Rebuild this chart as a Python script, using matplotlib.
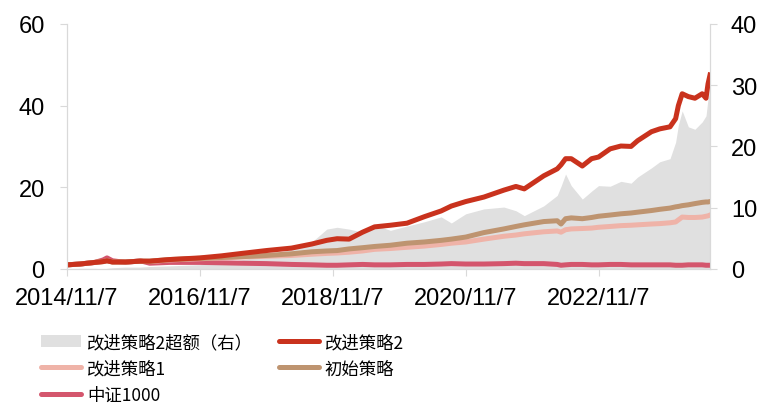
import numpy as np
import pandas as pd
import matplotlib
matplotlib.use("Agg")
import matplotlib.pyplot as plt
import matplotlib.dates as mdates
from matplotlib.patches import Patch
from matplotlib.lines import Line2D

plt.rcParams['font.family'] = ['Liberation Sans', 'Noto Sans CJK SC', 'DejaVu Sans']

dates = ["2014-11-07", "2015-01-17", "2015-04-10", "2015-05-25", "2015-06-15", "2015-07-15",
         "2015-09-25", "2015-12-15", "2016-02-05", "2016-05-25", "2016-11-07", "2017-03-05",
         "2017-06-25", "2017-11-07", "2018-03-25", "2018-07-15", "2018-10-05", "2018-12-01",
         "2019-02-05", "2019-04-20", "2019-06-25", "2019-09-20", "2019-12-20", "2020-03-25",
         "2020-06-25", "2020-08-20", "2020-11-07", "2021-02-15", "2021-06-05", "2021-08-10",
         "2021-09-25", "2022-01-10", "2022-03-25", "2022-04-15", "2022-05-10", "2022-06-10",
         "2022-08-10", "2022-09-30", "2022-11-07", "2023-01-10", "2023-03-10", "2023-05-05",
         "2023-06-10", "2023-08-25", "2023-10-10", "2023-12-05", "2024-01-05", "2024-01-20",
         "2024-02-10", "2024-03-15", "2024-04-20", "2024-05-30", "2024-06-20", "2024-07-01",
         "2024-07-12"]

improved2 = [1.0, 1.2, 1.6, 1.8, 2.0, 1.7, 1.7, 1.9, 1.9, 2.3, 2.7, 3.2,
             3.8, 4.5, 5.1, 6.1, 7.0, 7.4, 7.3, 9.0, 10.3, 10.7, 11.2, 12.8,
             14.2, 15.4, 16.5, 17.6, 19.3, 20.2, 19.6, 22.8, 24.5, 25.5, 27.0, 27.0,
             25.2, 27.0, 27.4, 29.4, 30.1, 30.0, 31.4, 33.6, 34.3, 34.8, 36.8, 40.0,
             42.9, 42.2, 41.8, 42.9, 41.8, 45.3, 47.5]
initial = [1.0, 1.2, 1.6, 1.8, 2.0, 1.7, 1.7, 1.9, 1.9, 2.3, 2.6, 2.8,
           3.0, 3.3, 3.7, 4.2, 4.4, 4.5, 4.9, 5.2, 5.5, 5.8, 6.3, 6.6,
           7.0, 7.3, 7.8, 8.9, 9.8, 10.4, 10.8, 11.6, 11.8, 11.0, 12.3, 12.5,
           12.3, 12.6, 12.9, 13.2, 13.5, 13.7, 13.9, 14.3, 14.6, 14.9, 15.2, 15.3,
           15.5, 15.7, 16.0, 16.3, 16.4, 16.4, 16.5]
improved1 = [1.0, 1.2, 1.6, 1.8, 2.0, 1.7, 1.7, 1.9, 1.8, 2.2, 2.5, 2.7,
             2.9, 3.1, 3.3, 3.6, 3.8, 3.9, 4.1, 4.4, 4.8, 5.0, 5.3, 5.6,
             6.0, 6.3, 6.6, 7.3, 8.0, 8.3, 8.6, 9.1, 9.3, 9.0, 9.6, 9.8,
             9.9, 10.0, 10.2, 10.4, 10.6, 10.7, 10.8, 11.0, 11.1, 11.3, 11.5, 12.0,
             12.7, 12.6, 12.6, 12.7, 12.9, 13.0, 13.2]
csi1000 = [1.0, 1.2, 1.6, 2.2, 2.7, 2.0, 1.6, 2.0, 1.4, 1.6, 1.6, 1.5,
           1.4, 1.3, 1.1, 1.0, 0.9, 0.9, 1.0, 1.1, 1.0, 1.0, 1.1, 1.1,
           1.2, 1.3, 1.2, 1.2, 1.3, 1.4, 1.3, 1.3, 1.1, 0.9, 1.0, 1.1,
           1.1, 1.0, 1.0, 1.1, 1.1, 1.0, 1.0, 1.0, 1.0, 1.0, 0.9, 0.9,
           0.9, 1.0, 1.0, 1.0, 0.9, 0.9, 0.9]
excess2 = [0.0, 0.1, 0.1, 0.0, 0.1, 0.2, 0.3, 0.3, 0.4, 0.5, 0.7, 1.0,
           1.5, 2.2, 3.2, 4.4, 6.5, 6.8, 6.5, 6.0, 7.2, 6.3, 7.0, 7.7,
           8.5, 7.5, 9.0, 9.8, 10.1, 9.5, 8.7, 10.3, 12.0, 13.5, 15.5, 13.6,
           11.4, 12.7, 13.6, 13.5, 14.3, 14.0, 15.0, 16.5, 17.5, 18.0, 20.7, 23.5,
           25.8, 23.2, 22.8, 24.0, 25.0, 27.8, 29.5]

tick_dates = ["2014-11-07", "2016-11-07", "2018-11-07", "2020-11-07", "2022-11-07"]
tick_labels = ["2014/11/7", "2016/11/7", "2018/11/7", "2020/11/7", "2022/11/7"]

labels = ["改进策略2超额（右）", "改进策略2", "改进策略1", "初始策略", "中证1000"]
c_gray = "#E0E0E0"
c_red = "#C9321D"
c_pink = "#EFB3A8"
c_tan = "#BE9470"
c_csi = "#D4566D"
grid_c = "#D9D9D9"

x = pd.to_datetime(dates)

fig = plt.figure(figsize=(7.68, 4.14), dpi=100)
ax1 = fig.add_axes([0.0872, 0.348, 0.8373, 0.5918])
ax2 = ax1.twinx()

ax2.fill_between(x, 0, excess2, color=c_gray, lw=0)
ax2.set_ylim(0, 40)
ax2.set_yticks([0, 10, 20, 30, 40])

lw = 3.6
ax1.plot(x, csi1000, color=c_csi, lw=lw)
ax1.plot(x, improved1, color=c_pink, lw=lw)
ax1.plot(x, initial, color=c_tan, lw=lw)
ax1.plot(x, improved2, color=c_red, lw=lw)
ax1.set_ylim(0, 60)
ax1.set_yticks([0, 20, 40, 60])
ax1.set_zorder(ax2.get_zorder() + 1)
ax1.patch.set_visible(False)

ax1.set_xlim(x[0], x[-1])
ax1.set_xticks(pd.to_datetime(tick_dates))
ax1.set_xticklabels(tick_labels)

for ax in (ax1, ax2):
    for s in ax.spines.values():
        s.set_color(grid_c)
        s.set_linewidth(0.8)
    ax.spines['top'].set_visible(False)
    ax.tick_params(colors=grid_c, labelcolor="black", labelsize=17, length=5, width=0.8)
ax1.tick_params(axis='y', pad=11)
ax2.tick_params(axis='y', pad=10)
ax1.tick_params(axis='x', pad=8)

handles = [Patch(facecolor=c_gray, edgecolor='none'),
           Line2D([], [], color=c_pink, lw=lw, solid_capstyle='round'),
           Line2D([], [], color=c_csi, lw=lw, solid_capstyle='round'),
           Line2D([], [], color=c_red, lw=lw, solid_capstyle='round'),
           Line2D([], [], color=c_tan, lw=lw, solid_capstyle='round')]
leg_labels = [labels[0], labels[2], labels[4], labels[1], labels[3]]
fig.legend(handles, leg_labels, ncol=2, loc='upper left', bbox_to_anchor=(0.054, 0.193),
           frameon=False, prop={'family': ['Noto Sans CJK SC', 'DejaVu Sans'], 'size': 12.5},
           handlelength=2.3, handletextpad=0.35, columnspacing=1.45, labelspacing=0.48,
           borderpad=0, borderaxespad=0)

fig.savefig("out.png", dpi=100)
